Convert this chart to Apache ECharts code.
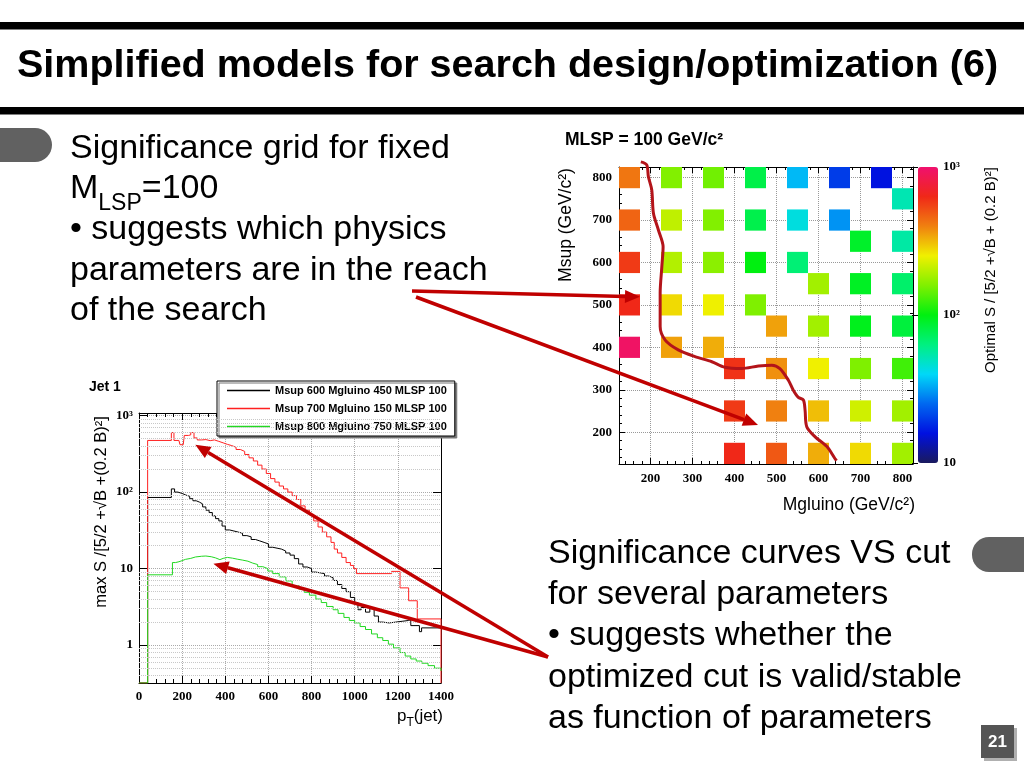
<!DOCTYPE html>
<html><head><meta charset="utf-8">
<script src="https://cdn.jsdelivr.net/npm/echarts/dist/echarts.min.js"></script>
<style>html,body{margin:0;padding:0;background:#fff;}#c{width:1024px;height:768px;}</style>
</head><body><div id="c"></div>
<script>
// ---------- Heatmap data (Mgluino, Msup, optimal significance) ----------
const heatMgluino = [150,250,350,450,550,650,750, 800, 150,250,350,450,550,650, 700,800, 150,250,350,450,550, 600,700,800, 150,250,350,450, 500,600,700,800, 150,250,350, 400,500,600,700,800, 400,500,600,700,800, 400,500,600,700,800];
const heatMsup    = [800,800,800,800,800,800,800, 750, 700,700,700,700,700,700, 650,650, 600,600,600,600,600, 550,550,550, 500,500,500,500, 450,450,450,450, 400,400,400, 350,350,350,350,350, 250,250,250,250,250, 150,150,150,150,150];
const heatValue   = [420,160,150,79,35,20,16, 52, 460,205,160,78,44,30, 90,55, 575,195,166,100,66, 182,92,69, 630,275,250,158, 347,182,95,83, 950,347,331, 600,372,251,158,126, 575,398,309,219,182, 630,490,331,275,182];
// hand-drawn contour on the grid (Mgluino, Msup)
const contour = [[177,837],[191,830],[195,802],[203,771],[207,716],[219,676],[230,637],[227,590],[223,528],[223,488],[223,449],[235,417],[266,394],[306,378],[346,366],[377,353],[417,350],[457,356],[489,358],[508,350],[528,323],[540,299],[552,282],[564,276],[568,252],[572,213],[592,189],[620,166],[639,138],[643,133]];
const heatTicks = [200,300,400,500,600,700,800];

// ---------- Jet 1 histograms (bin left edge pT, max significance) ----------
const jetNames = ['Msup 600 Mgluino 450 MLSP 100','Msup 700 Mgluino 150 MLSP 100','Msup 800 Mgluino 750 MLSP 100'];
const jetBlack = [[40,85],[150,110],[165,100],[180,96],[200,92],[215,88],[235,82],[250,77],[265,74],[280,70],[295,64],[310,58],[325,54],[340,49],[355,45],[370,42],[385,36],[400,32],[420,31],[440,30],[460,29],[480,27],[500,26],[520,24],[540,23],[560,22],[580,21],[600,19],[620,18.5],[640,18],[660,17],[680,16],[700,15],[720,13.5],[740,11.5],[760,10.5],[780,10],[800,9],[820,8.8],[840,8.6],[860,8],[880,7.6],[900,7],[920,6.2],[940,5.5],[960,5],[980,4.2],[1000,3.6],[1015,2.9],[1030,3.1],[1050,2.7],[1070,3],[1090,2.4],[1110,2.0],[1130,1.95],[1160,2.0],[1190,2.05],[1220,2.1],[1250,2.15],[1260,1.8],[1300,1.5],[1310,1.68],[1400,1.68]];
const jetRed = [[40,473],[150,600],[162,473],[185,460],[190,416],[205,416],[210,550],[230,560],[240,600],[255,510],[270,480],[290,485],[310,470],[330,480],[350,460],[370,440],[390,420],[410,405],[430,385],[450,360],[470,340],[490,310],[510,280],[530,255],[550,225],[570,200],[590,175],[610,150],[630,135],[650,120],[670,110],[690,100],[710,90],[730,80],[750,66],[770,58],[790,50],[810,42],[830,35],[850,30],[870,26],[890,22],[905,18],[920,16],[940,14],[960,12],[980,11],[995,10],[1008,8.6],[1171,9.2],[1210,5.6],[1250,3.8],[1290,2.2],[1400,2.2]];
const jetGreen = [[40,8.3],[155,12],[170,12.3],[185,12.7],[200,13.2],[215,13.6],[240,14.2],[262,14.5],[290,14.6],[310,14.3],[335,13.8],[355,13.1],[375,13.6],[390,14],[410,13.7],[433,13.3],[455,12.9],[481,12.5],[505,11.8],[527,11.3],[550,10.6],[574,10],[597,9.3],[620,8.6],[650,7.8],[681,6.9],[710,6.0],[740,5.4],[766,4.9],[790,4.5],[820,4.0],[845,3.6],[870,3.2],[900,2.9],[923,2.6],[950,2.3],[975,2.1],[1000,1.95],[1025,1.75],[1050,1.6],[1078,1.4],[1105,1.25],[1130,1.15],[1156,1.03],[1180,0.92],[1210,0.8],[1234,0.72],[1260,0.66],[1285,0.62],[1311,0.58],[1340,0.54],[1370,0.5],[1400,0.46]];
const jetYMin = 0.32, jetYMax = 1080;

const SANS = '"Liberation Sans", Arial, sans-serif';
const SERIF = '"Liberation Serif", "Times New Roman", serif';
const ARROW = '#c00000';

const heatData = heatMgluino.map((x, i) => [x, heatMsup[i], Math.log10(heatValue[i])]);
const withEdges = (arr, closeDown) => {
  const d = [[0, jetYMin]].concat(arr);
  if (closeDown) d.push([arr[arr.length - 1][0], jetYMin]);
  return d;
};
const minorGrid = [];
[0.1, 1, 10, 100].forEach(dec => { for (let k = 2; k <= 9; k++) { const v = k * dec; if (v > jetYMin && v < jetYMax) minorGrid.push({ yAxis: v }); } });

const logLabel = v => {
  const l = Math.log10(v); if (Math.abs(l - Math.round(l)) > 1e-6) return '';
  const e = Math.round(l); return e === 0 ? '1' : e === 1 ? '10' : e === 2 ? '10²' : '10³';
};
const tickStyle = { color: '#000', width: 1 };
const serifLabel = { fontFamily: SERIF, fontWeight: 'bold', fontSize: 13, color: '#000' };

const chart = echarts.init(document.getElementById('c'));
const option = {
  animation: false,
  backgroundColor: '#fff',
  grid: [
    { left: 619, top: 167, width: 294, height: 297 },
    { left: 918, top: 167, width: 20, height: 296 },
    { left: 139, top: 413, width: 302, height: 270 }
  ],
  xAxis: [
    { gridIndex: 0, type: 'value', min: 125, max: 825, splitNumber: 7, position: 'bottom',
      axisLine: { show: true, onZero: false, lineStyle: tickStyle },
      axisTick: { inside: true, length: 6, lineStyle: tickStyle },
      minorTick: { show: true, splitNumber: 5, length: 3, lineStyle: tickStyle },
      splitLine: { show: true, lineStyle: { color: '#999', type: 'dotted' } },
      axisLabel: Object.assign({ margin: 8, showMinLabel: false, showMaxLabel: false,
        formatter: v => heatTicks.indexOf(v) >= 0 ? String(v) : '' }, serifLabel) },
    { gridIndex: 0, type: 'value', min: 125, max: 825, splitNumber: 7, position: 'top',
      axisLine: { show: true, onZero: false, lineStyle: tickStyle },
      axisTick: { inside: true, length: 6, lineStyle: tickStyle },
      minorTick: { show: true, splitNumber: 5, length: 3, lineStyle: tickStyle },
      splitLine: { show: false }, axisLabel: { show: false } },
    { gridIndex: 1, type: 'value', min: 0, max: 1, show: false },
    { gridIndex: 2, type: 'value', min: 0, max: 1400, interval: 200, position: 'bottom',
      axisLine: { show: true, onZero: false, lineStyle: tickStyle },
      axisTick: { inside: true, length: 7, lineStyle: tickStyle },
      minorTick: { show: true, splitNumber: 5, length: 4, lineStyle: tickStyle },
      splitLine: { show: true, lineStyle: { color: '#aaa', type: 'dotted' } },
      axisLabel: Object.assign({ margin: 7, formatter: v => String(v) }, serifLabel) },
    { gridIndex: 2, type: 'value', min: 0, max: 1400, interval: 200, position: 'top',
      axisLine: { show: true, onZero: false, lineStyle: tickStyle },
      axisTick: { inside: true, length: 7, lineStyle: tickStyle },
      minorTick: { show: true, splitNumber: 5, length: 4, lineStyle: tickStyle },
      splitLine: { show: false }, axisLabel: { show: false } }
  ],
  yAxis: [
    { gridIndex: 0, type: 'value', min: 125, max: 825, splitNumber: 7, position: 'left',
      axisLine: { show: true, onZero: false, lineStyle: tickStyle },
      axisTick: { inside: true, length: 6, lineStyle: tickStyle },
      minorTick: { show: true, splitNumber: 5, length: 3, lineStyle: tickStyle },
      splitLine: { show: true, lineStyle: { color: '#999', type: 'dotted' } },
      axisLabel: Object.assign({ margin: 7, showMinLabel: false, showMaxLabel: false,
        formatter: v => heatTicks.indexOf(v) >= 0 ? String(v) : '' }, serifLabel) },
    { gridIndex: 0, type: 'value', min: 125, max: 825, splitNumber: 7, position: 'right',
      axisLine: { show: true, onZero: false, lineStyle: tickStyle },
      axisTick: { inside: true, length: 6, lineStyle: tickStyle },
      minorTick: { show: true, splitNumber: 5, length: 3, lineStyle: tickStyle },
      splitLine: { show: false }, axisLabel: { show: false } },
    { gridIndex: 1, type: 'log', logBase: 10, min: 10, max: 1000, position: 'right', z: 10,
      axisLine: { show: false },
      axisTick: { inside: true, length: 6, lineStyle: tickStyle },
      splitLine: { show: false },
      axisLabel: Object.assign({ margin: 5, formatter: logLabel }, serifLabel) },
    { gridIndex: 2, type: 'log', logBase: 10, min: jetYMin, max: jetYMax, position: 'left',
      axisLine: { show: true, onZero: false, lineStyle: tickStyle },
      axisTick: { inside: true, length: 8, lineStyle: tickStyle },
      splitLine: { show: true, lineStyle: { color: '#aaa', type: 'dotted' } },
      axisLabel: Object.assign({ margin: 6, formatter: logLabel }, serifLabel) },
    { gridIndex: 2, type: 'log', logBase: 10, min: jetYMin, max: jetYMax, position: 'right',
      axisLine: { show: true, onZero: false, lineStyle: tickStyle },
      axisTick: { inside: true, length: 8, lineStyle: tickStyle },
      splitLine: { show: false }, axisLabel: { show: false } }
  ],
  visualMap: {
    type: 'continuous', seriesIndex: 0, dimension: 2, min: 1, max: 3,
    calculable: false, orient: 'vertical', left: 918, top: 167, itemWidth: 20, itemHeight: 296, padding: 0,
    inRange: { color: ['#1a1a5e','#0010e0','#0068f0','#00d8f8','#00f080','#00f010','#80f000','#f0f000','#f08010','#f02818','#f0106e'] },
    textStyle: { color: 'transparent' }
  },
  legend: {
    data: jetNames, left: 217, top: 381, orient: 'vertical', icon: 'rect',
    itemWidth: 43, itemHeight: 1.5, itemGap: 5, padding: [3, 8, 3, 10],
    borderColor: '#000', borderWidth: 1, backgroundColor: '#fff',
    shadowColor: '#777', shadowOffsetX: 2, shadowOffsetY: 2, shadowBlur: 0,
    textStyle: { fontFamily: SANS, fontWeight: 'bold', fontSize: 11, color: '#000', lineHeight: 13 }
  },
  series: [
    { type: 'custom', xAxisIndex: 0, yAxisIndex: 0, data: heatData, z: 2,
      renderItem: (params, api) => {
        const x = api.value(0), y = api.value(1);
        const p0 = api.coord([x - 25, y + 25]), p1 = api.coord([x + 25, y - 25]);
        return { type: 'rect', shape: { x: p0[0], y: p0[1], width: p1[0] - p0[0], height: p1[1] - p0[1] },
          style: { fill: api.visual('color') } };
      } },
    { type: 'line', xAxisIndex: 0, yAxisIndex: 0, data: contour, smooth: 0.3, symbol: 'none', clip: false, z: 5,
      lineStyle: { color: '#b3141a', width: 3 }, silent: true },
    { type: 'line', name: jetNames[0], xAxisIndex: 3, yAxisIndex: 3, data: withEdges(jetBlack, false), step: 'end', symbol: 'none',
      lineStyle: { color: '#000', width: 1 }, itemStyle: { color: '#000' },
      markLine: { silent: true, symbol: ['none', 'none'], label: { show: false }, animation: false,
        lineStyle: { color: '#c8c8c8', type: 'dotted', width: 1 }, data: minorGrid } },
    { type: 'line', name: jetNames[1], xAxisIndex: 3, yAxisIndex: 3, data: withEdges(jetRed, true), step: 'end', symbol: 'none',
      lineStyle: { color: '#ff2020', width: 1 }, itemStyle: { color: '#ff2020' } },
    { type: 'line', name: jetNames[2], xAxisIndex: 3, yAxisIndex: 3, data: withEdges(jetGreen, false), step: 'end', symbol: 'none',
      lineStyle: { color: '#22d822', width: 1 }, itemStyle: { color: '#22d822' } }
  ]
};
chart.setOption(option);

// ---------- slide decoration and annotations ----------
function txt(x, y, text, size, opts) {
  return Object.assign({ type: 'text', x: x, y: y, z: 50,
    style: Object.assign({ text: text, fontFamily: SANS, fontSize: size, fill: '#000', align: 'left', verticalAlign: 'middle' }, (opts && opts.style) || {}) },
    opts && opts.rotation !== undefined ? { rotation: opts.rotation } : {});
}
function arrow(p0, p1) {
  const dx = p1[0] - p0[0], dy = p1[1] - p0[1], L = Math.hypot(dx, dy), ux = dx / L, uy = dy / L;
  const hl = 15, hw = 6.5, bx = p1[0] - ux * hl, by = p1[1] - uy * hl;
  return [
    { type: 'line', z: 100, shape: { x1: p0[0], y1: p0[1], x2: bx, y2: by }, style: { stroke: ARROW, lineWidth: 3.5 } },
    { type: 'polygon', z: 100, shape: { points: [[p1[0], p1[1]], [bx - uy * hw, by + ux * hw], [bx + uy * hw, by - ux * hw]] }, style: { fill: ARROW } }
  ];
}
const heatPx = v => chart.convertToPixel({ xAxisIndex: 0, yAxisIndex: 0 }, v);
const jetPx = v => chart.convertToPixel({ xAxisIndex: 3, yAxisIndex: 3 }, v);

const els = [
  { type: 'rect', z: 40, shape: { x: 0, y: 22, width: 1024, height: 7.5 }, style: { fill: '#000' } },
  { type: 'rect', z: 40, shape: { x: 0, y: 107, width: 1024, height: 7.5 }, style: { fill: '#000' } },
  txt(17, 66, 'Simplified models for search design/optimization (6)', 39.5, { style: { fontWeight: 'bold' } }),
  { type: 'rect', z: 40, shape: { x: -30, y: 128, width: 82, height: 34, r: 17 }, style: { fill: '#616161' } },
  { type: 'rect', z: 40, shape: { x: 972, y: 537, width: 90, height: 35, r: 17 }, style: { fill: '#616161' } },
  txt(70, 149, 'Significance grid for fixed', 34),
  { type: 'text', x: 70, y: 189, z: 50, style: { text: '{m|M}{s|LSP}{m|=100}', fontFamily: SANS, fontSize: 34, fill: '#000', align: 'left', verticalAlign: 'middle',
      rich: { m: { fontFamily: SANS, fontSize: 34, lineHeight: 52, verticalAlign: 'middle' }, s: { fontFamily: SANS, fontSize: 23, verticalAlign: 'bottom' } } } },
  txt(70, 230, '• suggests which physics', 34),
  txt(70, 271, 'parameters are in the reach', 34),
  txt(70, 311, 'of the search', 34),
  txt(548, 554, 'Significance curves VS cut', 34),
  txt(548, 595, 'for several parameters', 34),
  txt(548, 636, '• suggests whether the', 34),
  txt(548, 678, 'optimized cut is valid/stable', 34),
  txt(548, 719, 'as function of parameters', 34),
  { type: 'rect', z: 40, shape: { x: 984, y: 728, width: 33, height: 33 }, style: { fill: '#b0b0b0' } },
  { type: 'rect', z: 41, shape: { x: 981, y: 725, width: 33, height: 33 }, style: { fill: '#555' } },
  txt(997.5, 742, '21', 17, { style: { fontWeight: 'bold', fill: '#fff', align: 'center' } }),
  // heatmap texts
  txt(565, 140, 'MLSP = 100 GeV/c²', 17.5, { style: { fontWeight: 'bold' } }),
  txt(566, 225, 'Msup (GeV/c²)', 17.5, { rotation: Math.PI / 2, style: { align: 'center' } }),
  txt(915, 505, 'Mgluino (GeV/c²)', 17.5, { style: { align: 'right' } }),
  txt(991, 270, 'Optimal S / [5/2 +√B + (0.2 B)²]', 15, { rotation: Math.PI / 2, style: { align: 'center' } }),
  // jet texts
  txt(89, 387, 'Jet 1', 14, { style: { fontWeight: 'bold' } }),
  txt(101, 512, 'max S /[5/2 +√B +(0.2 B)²]', 16.5, { rotation: Math.PI / 2, style: { align: 'center' } }),
  { type: 'text', x: 443, y: 716, z: 50, style: { text: '{m|p}{s|T}{m|(jet)}', fontFamily: SANS, fontSize: 17, fill: '#000', align: 'right', verticalAlign: 'middle',
      rich: { m: { fontFamily: SANS, fontSize: 17, lineHeight: 26, verticalAlign: 'middle' }, s: { fontFamily: SANS, fontSize: 12, verticalAlign: 'bottom' } } } }
];
const arrows = [].concat(
  arrow([412, 291], heatPx([175, 519])),
  arrow([416, 297], heatPx([456, 217])),
  arrow([548, 657], jetPx([261, 415])),
  arrow([548, 657], jetPx([345, 11.6]))
);
chart.setOption({ graphic: { elements: els.concat(arrows) } });
</script></body></html>
